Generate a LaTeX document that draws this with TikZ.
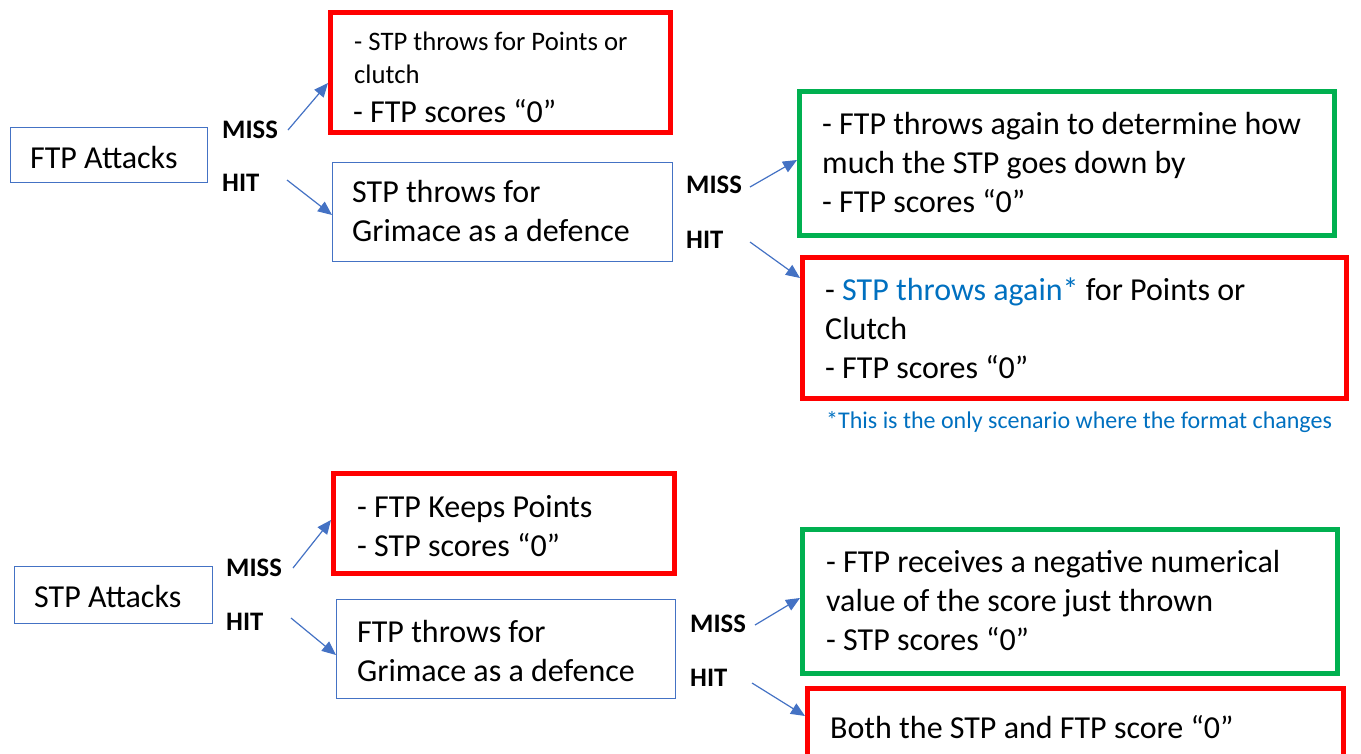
\documentclass[tikz,border=0pt]{standalone}
\usepackage{fontspec}
\setmainfont{Carlito}
\usetikzlibrary{arrows.meta}
\definecolor{boxblue}{HTML}{4472C4}
\definecolor{okgreen}{HTML}{00B050}
\definecolor{badred}{HTML}{FF0000}
\definecolor{noteblue}{HTML}{0070C0}
% interword space of the office font
\newcommand{\tightspace}{\spaceskip=0.2264em\relax\xspaceskip=0.2264em\relax}
\tikzset{
  bigtext/.style={font=\fontsize{32}{39}\selectfont\tightspace},
  smalltext/.style={font=\fontsize{26.7}{32.5}\selectfont\tightspace},
  notetext/.style={font=\fontsize{24}{29}\selectfont\tightspace},
  box/.style={inner sep=0pt, anchor=north west},
  redbox/.style={box, draw=badred, line width=5pt},
  greenbox/.style={box, draw=okgreen, line width=5pt},
  bluebox/.style={box, draw=boxblue, line width=1.3pt},
  % text blocks are placed by the baseline of their last line
  txt/.style={anchor=base west, inner sep=0pt, align=left, bigtext},
  smalltxt/.style={anchor=base west, inner sep=0pt, align=left, smalltext},
  lbl/.style={anchor=base west, inner sep=0pt, font=\fontsize{26.7}{32.5}\selectfont\bfseries},
  arr/.style={draw=boxblue, line width=1.2pt, -{Triangle[length=14pt,width=12pt]}},
}
\begin{document}
\begin{tikzpicture}[x=1pt,y=-1pt]
\useasboundingbox (0,0) rectangle (1361,753);
\clip (0,0) rectangle (1361,753);

% ---------- FTP attacks ----------
\node[bluebox, minimum width=196.7pt, minimum height=54.7pt] (ftpatk) at (10,127) {};
\node[txt] (ftpatkT) at (30,168) {FTP Attacks};

\node[redbox, minimum width=340pt, minimum height=120pt] (ftpmiss) at (328,10) {};
\node[smalltxt] (ftpmissT1) at (354,83.1) {- STP throws for Points or\\clutch};
\node[txt] (ftpmissT2) at (353,122) {- FTP scores “0”};

\node[bluebox, minimum width=339.7pt, minimum height=98.7pt] (stpdef) at (332,162) {};
\node[txt] (stpdefT) at (352,241) {STP throws for\\Grimace as a defence};

\node[greenbox, minimum width=535pt, minimum height=144pt] (defmiss) at (797,89) {};
\node[txt] (defmissT) at (822,212) {- FTP throws again to determine how\\much the STP goes down by\\- FTP scores “0”};

\node[redbox, minimum width=544pt, minimum height=141pt] (defhit) at (800,255) {};
\node[txt] (defhitT) at (825,378) {- \textcolor{noteblue}{STP throws again*} for Points or\\Clutch\\- FTP scores “0”};

\node[anchor=base west, inner sep=0pt, notetext, text=noteblue] (note) at (826,428) {*This is the only scenario where the format changes};

\node[lbl] (lmiss1) at (222,138.6) {MISS};
\node[lbl] (lhit1) at (222,191.6) {HIT};
\node[lbl] (lmiss2) at (686,193.6) {MISS};
\node[lbl] (lhit2) at (686,248.6) {HIT};

\coordinate (smiss1) at (288,130);
\coordinate (shit1) at (287,180);
\coordinate (smiss2) at (750,187);
\coordinate (shit2) at (750,242);

\draw[arr] (smiss1) -- (ftpmiss.west |- 0,83);
\draw[arr] (shit1) -- (stpdef.west |- 0,215);
\draw[arr] (smiss2) -- (defmiss.west |- 0,160);
\draw[arr] (shit2) -- (defhit.west |- 0,278);

% ---------- STP attacks ----------
\node[bluebox, minimum width=197.7pt, minimum height=56.7pt] (stpatk) at (14,566) {};
\node[txt] (stpatkT) at (34,607) {STP Attacks};

\node[redbox, minimum width=341pt, minimum height=100pt] (stpmiss) at (331,471) {};
\node[txt] (stpmissT) at (357,556) {- FTP Keeps Points\\- STP scores “0”};

\node[bluebox, minimum width=338.7pt, minimum height=98.7pt] (ftpdef) at (336,599) {};
\node[txt] (ftpdefT) at (357,681) {FTP throws for\\Grimace as a defence};

\node[greenbox, minimum width=535pt, minimum height=144pt] (def2miss) at (800,527) {};
\node[txt] (def2missT) at (826,650) {- FTP receives a negative numerical\\value of the score just thrown\\- STP scores “0”};

\node[redbox, minimum width=536pt, minimum height=80pt] (def2hit) at (805,686) {};
\node[txt] (def2hitT) at (830,738) {Both the STP and FTP score “0”};

\node[lbl] (lmiss3) at (226,576.6) {MISS};
\node[lbl] (lhit3) at (226,630.6) {HIT};
\node[lbl] (lmiss4) at (690,632.6) {MISS};
\node[lbl] (lhit4) at (690,686.6) {HIT};

\coordinate (smiss3) at (293,568);
\coordinate (shit3) at (291,618);
\coordinate (smiss4) at (755,625);
\coordinate (shit4) at (752,683);

\draw[arr] (smiss3) -- (stpmiss.west |- 0,520);
\draw[arr] (shit3) -- (ftpdef.west |- 0,655);
\draw[arr] (smiss4) -- (def2miss.west |- 0,598);
\draw[arr] (shit4) -- (def2hit.west |- 0,716);
\end{tikzpicture}
\end{document}
